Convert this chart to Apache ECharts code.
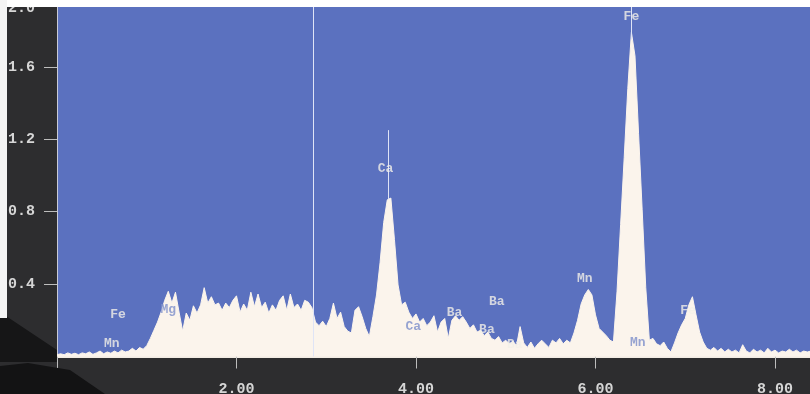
<!DOCTYPE html>
<html>
<head>
<meta charset="utf-8">
<title>EDS spectrum</title>
<script src="https://cdn.jsdelivr.net/npm/echarts@6/dist/echarts.min.js"></script>
<style>
  html, body { margin: 0; padding: 0; background: #2d2d2f; }
  #chart { width: 810px; height: 394px; }
</style>
</head>
<body>
<div id="chart"></div>
<script>
// Energy channels: start and width in keV
const energyStart = 0;
const energyStep = 0.04;

// Counts per channel (intensity, arbitrary units)
const counts = [
  0.01,0.015,0.01,0.02,0.012,0.018,0.01,0.02,0.015,0.025,0.012,0.02,0.03,0.015,0.025,0.018,0.03,0.02,0.035,0.025,0.03,0.045,0.03,0.05,0.04,
  0.06,0.10,0.145,0.19,0.245,0.31,0.36,0.295,0.355,0.245,0.14,0.24,0.20,0.28,0.24,0.285,
  0.38,0.295,0.33,0.285,0.295,0.255,0.295,0.27,0.31,0.335,0.245,0.29,0.255,0.355,0.275,0.345,0.27,0.30,0.24,0.285,0.255,0.31,0.335,0.255,0.345,0.27,0.29,0.255,0.31,0.30,
  0.27,0.19,0.17,0.195,0.165,0.21,0.295,0.21,0.245,0.165,0.14,0.13,0.255,0.275,0.22,0.155,0.11,0.22,
  0.34,0.52,0.74,0.865,0.875,0.645,0.395,0.285,
  0.30,0.245,0.21,0.235,0.19,0.21,0.17,0.19,0.225,0.135,0.19,0.21,0.10,0.20,0.225,0.20,0.22,0.19,0.155,0.175,0.135,0.145,0.115,0.135,0.10,0.09,0.11,0.075,0.09,0.07,0.085,0.06,0.165,0.075,0.05,0.08,0.045,0.07,0.09,0.07,0.05,0.09,0.075,0.10,0.07,0.09,0.075,
  0.13,0.20,0.29,0.34,0.37,0.34,0.23,0.155,0.135,0.115,0.09,0.08,
  0.36,0.73,1.10,1.48,1.79,1.66,1.23,0.81,0.38,0.09,
  0.10,0.07,0.06,0.08,0.045,0.025,0.075,0.13,0.175,0.21,0.285,0.33,0.23,0.135,0.08,0.045,0.035,0.05,0.03,0.045,0.025,0.04,0.025,0.035,0.02,0.065,0.03,0.02,0.04,0.025,0.035,0.02,0.045,0.025,0.035,0.02,0.03,0.025,0.04,0.025,0.035,0.02,0.03,0.025,0.03
];

// Element line labels: name, energy (keV), label height, tone (0 = over background, 1 = over peak)
const lineNames   = ['Mn', 'Fe', 'Mg', 'Ca', 'Ca', 'Ba', 'Ba', 'Ba', 'Ba', 'Mn', 'Fe', 'Mn', 'Fe'];
const lineEnergy  = [0.61, 0.68, 1.24, 3.66, 3.97, 4.43, 4.90, 4.79, 5.10, 5.88, 6.40, 6.47, 7.03];
const lineHeight  = [0.07, 0.23, 0.26, 1.035, 0.163, 0.24, 0.30, 0.146, 0.064, 0.43, 1.875, 0.075, 0.255];
const lineTone    = [0, 0, 1, 0, 1, 0, 0, 0, 0, 0, 0, 1, 0];

// Marker lines: cursor position and peak spike channels
const cursorEnergy = 2.85;
const caSpike = { energy: 3.69, from: 0.87, to: 1.25 };
const feSpike = { energy: 6.40, from: 1.75, to: 1.93 };

// Axis settings
const xMax = 8.39;
const yMax = 1.93;
const xTickStep = 2;
const yTickStep = 0.4;

const spectrum = counts.map((v, i) => [+(energyStart + i * energyStep).toFixed(2), v]);
const labels = lineNames.map((n, i) => ({
  name: n,
  value: [lineEnergy[i], lineHeight[i]],
  label: { color: lineTone[i] ? '#7d8ecb' : '#f3f0e8' }
}));

const mono = '"Liberation Mono", "DejaVu Sans Mono", monospace';
const chart = echarts.init(document.getElementById('chart'), null, { renderer: 'canvas' });

chart.setOption({
  animation: false,
  backgroundColor: '#2d2d2f',
  grid: {
    left: 57, right: 0, top: 7, bottom: 37.5,
    show: true, backgroundColor: '#5b71bf', borderWidth: 0,
    outerBoundsMode: 'none'
  },
  xAxis: {
    type: 'value', min: 0, max: xMax, interval: xTickStep,
    axisLine: { show: true, lineStyle: { color: '#f2ece4', width: 2 } },
    axisTick: { show: true, length: 12, lineStyle: { color: '#bdbdbd', width: 1 } },
    axisLabel: {
      margin: 25, color: '#d6d6d6', fontFamily: mono, fontSize: 15, fontWeight: 'bold',
      showMinLabel: true, showMaxLabel: false,
      formatter: v => (v === 0 ? '' : v.toFixed(2))
    },
    splitLine: { show: false }
  },
  yAxis: {
    type: 'value', min: 0, max: yMax, interval: yTickStep,
    axisLine: { show: true, lineStyle: { color: '#c9cbd6', width: 1 } },
    axisTick: { show: true, length: 13, lineStyle: { color: '#bdbdbd', width: 1 } },
    axisLabel: {
      margin: 49, align: 'left', color: '#d6d6d6', fontFamily: mono, fontSize: 15, fontWeight: 'bold',
      showMaxLabel: false,
      formatter: v => (v === 0 ? '' : v.toFixed(1))
    },
    splitLine: { show: false }
  },
  series: [
    {
      type: 'line',
      data: spectrum,
      symbol: 'none',
      sampling: 'none',
      lineStyle: { color: '#fbf4ec', width: 1 },
      areaStyle: { color: '#fbf4ec', opacity: 1 },
      z: 2,
      markLine: {
        silent: true,
        symbol: ['none', 'none'],
        label: { show: false },
        lineStyle: { color: '#dfe4f6', width: 1, type: 'solid' },
        data: [
          { xAxis: cursorEnergy },
          [{ coord: [caSpike.energy, caSpike.from] }, { coord: [caSpike.energy, caSpike.to] }],
          [{ coord: [feSpike.energy, feSpike.from] }, { coord: [feSpike.energy, feSpike.to] }]
        ]
      }
    },
    {
      type: 'scatter',
      data: labels,
      symbolSize: 0,
      silent: true,
      z: 5,
      label: {
        show: true, position: 'inside', formatter: p => p.name,
        fontFamily: mono, fontSize: 13, fontWeight: 'bold'
      }
    }
  ],
  graphic: [
    { type: 'text', left: 8, top: 1, z: 90,
      style: { text: '2.0', fill: '#d6d6d6', font: 'bold 15px ' + mono } },
    { type: 'rect', shape: { x: 0, y: 0, width: 810, height: 7 }, z: 100,
      style: { fill: '#ffffff' } },
    { type: 'rect', shape: { x: 0, y: 0, width: 7, height: 318 }, z: 100,
      style: { fill: '#f4f4f4' } },
    { type: 'polygon', shape: { points: [[0, 312], [57, 350], [57, 362], [0, 362]] }, z: 95,
      style: { fill: '#161617' } },
    { type: 'polygon', shape: { points: [[0, 366], [28, 363], [70, 370], [105, 394], [0, 394]] }, z: 95,
      style: { fill: '#131314' } }
  ]
});
</script>
</body>
</html>
